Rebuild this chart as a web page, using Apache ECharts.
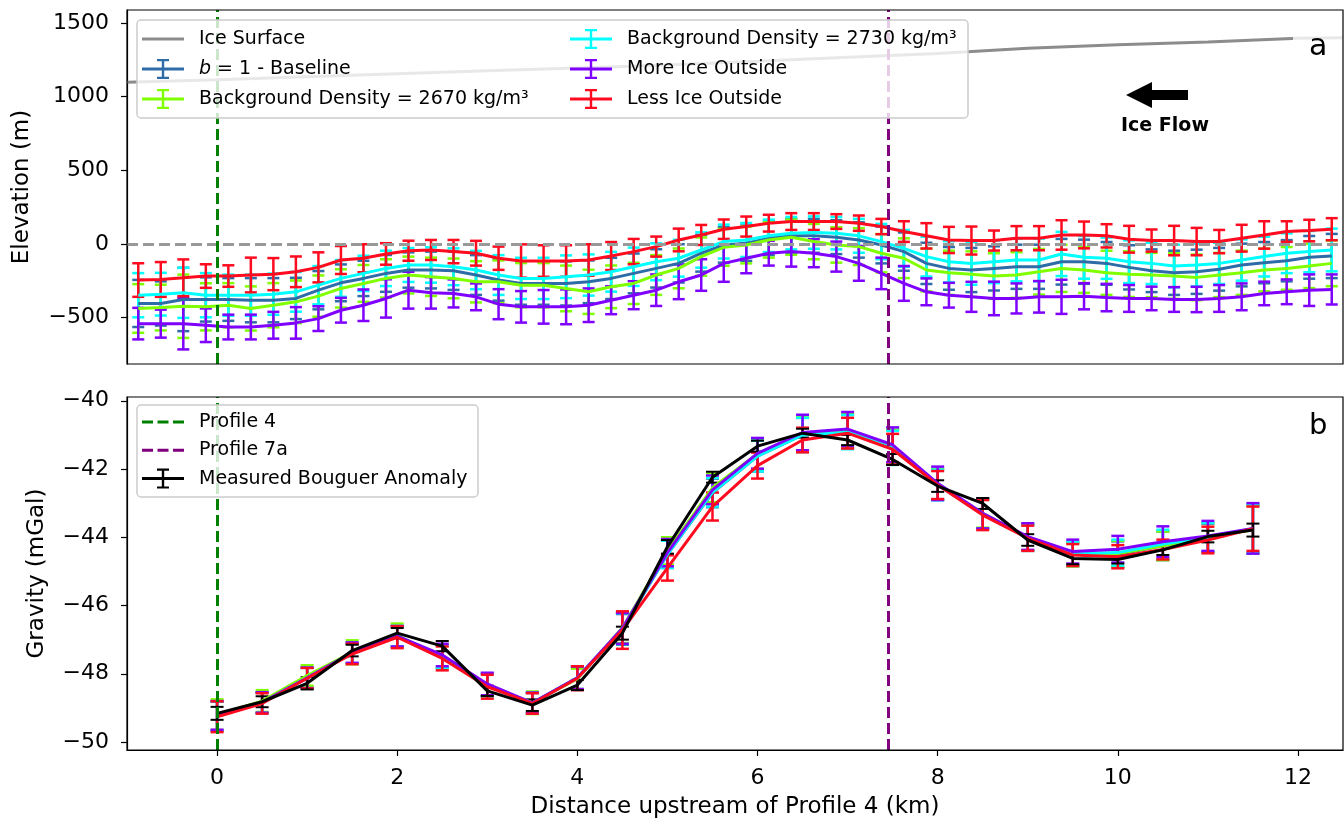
<!DOCTYPE html>
<html>
<head>
<meta charset="utf-8">
<script src="https://cdn.jsdelivr.net/npm/echarts@6/dist/echarts.min.js"></script>
<style>
html,body{margin:0;padding:0;background:#fff;}
#chart{width:1344px;height:825px;}
</style>
</head>
<body>
<div id="chart"></div>
<script>
// ---------------- DATA ----------------
// Panel a: inversion positions (km upstream of Profile 4)
const topX = [-0.875, -0.625, -0.375, -0.125, 0.125, 0.375, 0.625, 0.875, 1.125, 1.375, 1.625, 1.875, 2.125, 2.375,
  2.625, 2.875, 3.125, 3.375, 3.625, 3.875, 4.125, 4.375, 4.625, 4.875, 5.125, 5.375, 5.625,
  5.875, 6.125, 6.375, 6.625, 6.875, 7.125, 7.375, 7.625, 7.875, 8.125, 8.375, 8.625, 8.875,
  9.125, 9.375, 9.625, 9.875, 10.125, 10.375, 10.625, 10.875, 11.125, 11.375, 11.625, 11.875, 12.125, 12.375];

const iceSurfaceX = [-1, 0, 1, 2, 3, 4, 5, 6, 7, 8, 9, 10, 11, 12, 12.5];
const iceSurfaceY = [1097, 1115, 1135, 1155, 1175, 1195, 1215, 1240, 1268, 1292, 1328, 1352, 1370, 1397, 1400];

const baselineTop = [-404, -404, -377, -377, -377, -382, -382, -370, -314, -264, -234, -200, -177, -177,
  -182, -211, -245, -268, -268, -268, -257, -234, -200, -166, -132, -63, -7,
  5, 39, 55, 55, 46, 27, -7, -52, -132, -166, -177, -166, -155,
  -155, -121, -121, -132, -159, -182, -196, -189, -172, -143, -127, -114, -91, -82];
const baselineTopErr = [160, 150, 215, 150, 145, 150, 150, 140, 130, 125, 120, 125, 120, 125,
  130, 135, 140, 145, 145, 150, 145, 140, 135, 130, 130, 125, 120,
  120, 115, 115, 115, 115, 120, 125, 130, 140, 145, 150, 150, 150,
  150, 155, 150, 145, 150, 145, 150, 150, 145, 145, 140, 140, 145, 150];

const d2670Top = [-438, -432, -423, -427, -416, -438, -416, -393, -354, -302, -268, -234, -211, -223,
  -234, -257, -257, -280, -280, -302, -325, -291, -268, -211, -166, -86, -23,
  -7, 27, 46, 16, -7, -18, -63, -97, -177, -196, -205, -218, -211,
  -189, -166, -177, -196, -205, -211, -218, -227, -211, -196, -177, -166, -150, -132];
const d2670TopErr = [165, 155, 215, 160, 150, 150, 150, 145, 140, 130, 125, 130, 125, 130,
  135, 140, 145, 150, 150, 155, 150, 145, 140, 135, 135, 130, 125,
  125, 120, 120, 120, 120, 125, 130, 135, 145, 150, 155, 155, 155,
  155, 160, 155, 150, 155, 150, 155, 155, 150, 150, 145, 145, 150, 155];

const d2730Top = [-348, -341, -332, -348, -348, -348, -341, -325, -280, -234, -200, -166, -143, -143,
  -155, -177, -211, -234, -234, -223, -211, -189, -155, -121, -97, -41, 16,
  27, 55, 73, 77, 73, 55, 16, -30, -86, -121, -132, -121, -109,
  -109, -68, -91, -97, -121, -132, -150, -143, -132, -109, -86, -63, -52, -41];
const d2730TopErr = [150, 145, 170, 150, 140, 140, 140, 135, 130, 125, 120, 120, 115, 120,
  125, 130, 135, 140, 140, 145, 140, 135, 130, 125, 125, 120, 115,
  115, 110, 110, 110, 110, 115, 120, 125, 135, 140, 145, 145, 145,
  145, 150, 145, 140, 145, 140, 145, 145, 140, 140, 135, 135, 140, 145];

const moreIceTop = [-541, -541, -541, -552, -564, -564, -552, -536, -507, -450, -416, -370, -314, -332,
  -336, -359, -409, -427, -427, -427, -416, -382, -348, -314, -257, -211, -132,
  -97, -63, -52, -63, -86, -132, -200, -268, -325, -348, -359, -370, -370,
  -359, -359, -355, -364, -370, -370, -377, -377, -370, -359, -336, -325, -314, -309];
const moreIceTopErr = [107, 95, 175, 114, 84, 84, 91, 107, 84, 84, 107, 130, 125, 107,
  95, 91, 102, 107, 114, 118, 114, 95, 95, 107, 118, 107, 125,
  102, 84, 102, 95, 102, 118, 107, 118, 91, 84, 102, 114, 102,
  107, 116, 89, 93, 91, 80, 84, 86, 91, 91, 80, 84, 107, 102];

const lessIceTop = [-245, -241, -230, -218, -218, -211, -205, -189, -159, -109, -97, -68, -46, -41,
  -52, -63, -97, -116, -116, -116, -109, -82, -52, -18, 27, 61, 100,
  118, 141, 152, 152, 152, 141, 118, 84, 55, 27, 23, 23, 39,
  39, 61, 61, 55, 32, 23, 23, 16, 16, 39, 61, 84, 91, 100];
const lessIceTopErr = [114, 118, 125, 80, 73, 118, 109, 104, 102, 95, 95, 73, 68, 68,
  79, 84, 79, 113, 107, 107, 107, 95, 86, 68, 77, 68, 66,
  68, 57, 57, 57, 50, 52, 52, 70, 86, 89, 95, 68, 82,
  82, 100, 91, 79, 91, 75, 100, 93, 79, 91, 93, 70, 73, 75];

// Panel b: gravity stations
const gravX = [0, 0.5, 1, 1.5, 2, 2.5, 3, 3.5, 4, 4.5, 5, 5.5, 6, 6.5, 7, 7.5, 8, 8.5, 9, 9.5, 10, 10.5, 11, 11.5];

const measured = [-49.16, -48.82, -48.28, -47.32, -46.81, -47.19, -48.50, -48.92, -48.33, -46.81, -44.28, -42.24,
  -41.33, -40.95, -41.15, -41.72, -42.50, -43.01, -44.08, -44.62, -44.65, -44.37, -43.98, -43.79];
const measuredErr = [0.19, 0.16, 0.18, 0.17, 0.15, 0.15, 0.15, 0.17, 0.15, 0.19, 0.20, 0.16,
  0.16, 0.13, 0.15, 0.16, 0.17, 0.16, 0.17, 0.17, 0.12, 0.15, 0.17, 0.19];

const baselineGrav = [-49.24, -48.85, -48.12, -47.40, -46.90, -47.50, -48.33, -48.86, -48.12, -46.70, -44.50, -42.70,
  -41.62, -41.00, -40.90, -41.35, -42.45, -43.32, -44.00, -44.50, -44.50, -44.25, -44.02, -43.75];
const baselineGravErr = [0.43, 0.30, 0.30, 0.30, 0.30, 0.33, 0.33, 0.30, 0.33, 0.45, 0.40, 0.42,
  0.45, 0.50, 0.50, 0.50, 0.45, 0.42, 0.38, 0.35, 0.38, 0.42, 0.42, 0.70];

const d2670Grav = [-49.20, -48.80, -48.05, -47.37, -46.88, -47.50, -48.33, -48.85, -48.15, -46.65, -44.40, -42.55,
  -41.55, -40.98, -40.90, -41.35, -42.45, -43.30, -44.00, -44.50, -44.48, -44.25, -44.00, -43.78];
const d2670GravErr = [0.45, 0.32, 0.30, 0.35, 0.35, 0.35, 0.33, 0.33, 0.30, 0.45, 0.40, 0.42,
  0.45, 0.50, 0.50, 0.50, 0.45, 0.42, 0.38, 0.35, 0.38, 0.42, 0.42, 0.70];

const d2730Grav = [-49.24, -48.85, -48.12, -47.40, -46.90, -47.50, -48.33, -48.86, -48.12, -46.68, -44.50, -42.68,
  -41.62, -41.00, -40.92, -41.38, -42.47, -43.32, -44.02, -44.48, -44.45, -44.20, -44.00, -43.75];
const d2730GravErr = [0.42, 0.30, 0.30, 0.30, 0.30, 0.33, 0.33, 0.30, 0.33, 0.45, 0.40, 0.42,
  0.45, 0.50, 0.50, 0.50, 0.45, 0.42, 0.38, 0.35, 0.38, 0.42, 0.42, 0.72];

const moreIceGrav = [-49.22, -48.84, -48.12, -47.38, -46.90, -47.45, -48.30, -48.85, -48.12, -46.67, -44.45, -42.61,
  -41.54, -40.93, -40.83, -41.29, -42.42, -43.30, -43.98, -44.42, -44.35, -44.13, -43.96, -43.74];
const moreIceGravErr = [0.42, 0.30, 0.30, 0.30, 0.30, 0.33, 0.33, 0.30, 0.33, 0.45, 0.40, 0.42,
  0.45, 0.52, 0.50, 0.51, 0.49, 0.44, 0.39, 0.35, 0.39, 0.45, 0.44, 0.74];

const lessIceGrav = [-49.26, -48.87, -48.13, -47.42, -46.93, -47.55, -48.38, -48.87, -48.13, -46.72, -44.90, -43.10,
  -41.90, -41.15, -40.95, -41.42, -42.47, -43.35, -44.03, -44.52, -44.57, -44.36, -44.08, -43.75];
const lessIceGravErr = [0.45, 0.30, 0.30, 0.30, 0.32, 0.35, 0.35, 0.30, 0.35, 0.55, 0.37, 0.41,
  0.38, 0.36, 0.45, 0.45, 0.41, 0.44, 0.37, 0.32, 0.34, 0.29, 0.39, 0.65];

const profile4X = 0;
const profile7aX = 7.45;

const xTicks = [0, 2, 4, 6, 8, 10, 12];
const elevTicks = [-500, 0, 500, 1000, 1500];
const gravTicks = [-50, -48, -46, -44, -42, -40];

const NAMES = {
  ice: 'Ice Surface',
  base: 'b = 1 - Baseline',
  d2670: 'Background Density = 2670 kg/m\u00b3',
  d2730: 'Background Density = 2730 kg/m\u00b3',
  more: 'More Ice Outside',
  less: 'Less Ice Outside',
  p4: 'Profile 4',
  p7: 'Profile 7a',
  meas: 'Measured Bouguer Anomaly'
};

// ---------------- STYLE ----------------
const FONT = 'DejaVu Sans';
const COLORS = {
  ice: '#8c8c8c', base: '#2e6ca8', d2670: '#80ff00', d2730: '#00ffff',
  more: '#7f00ff', less: '#ff0a1e', p4: '#008000', p7: '#800080', meas: '#000000', zero: '#999999'
};

function pairs(xs, ys) { return xs.map((x, i) => [x, ys[i]]); }
function triples(xs, ys, es) { return xs.map((x, i) => [x, ys[i], es[i]]); }

function errRenderer(capHalf, lw) {
  return function (params, api) {
    const x = api.value(0), y = api.value(1), e = api.value(2);
    const t = api.coord([x, y + e]);
    const b = api.coord([x, y - e]);
    const st = { stroke: api.visual('color'), lineWidth: lw };
    return {
      type: 'group',
      children: [
        { type: 'line', shape: { x1: t[0], y1: t[1], x2: b[0], y2: b[1] }, style: st },
        { type: 'line', shape: { x1: t[0] - capHalf, y1: t[1], x2: t[0] + capHalf, y2: t[1] }, style: st },
        { type: 'line', shape: { x1: b[0] - capHalf, y1: b[1], x2: b[0] + capHalf, y2: b[1] }, style: st }
      ]
    };
  };
}

function lineSeries(name, xs, ys, color, gi, lw, z) {
  return {
    type: 'line', name: name, xAxisIndex: gi, yAxisIndex: gi,
    data: pairs(xs, ys), showSymbol: false, symbol: 'none',
    lineStyle: { color: color, width: lw }, itemStyle: { color: color },
    silent: true, animation: false, z: z || 2
  };
}
function errSeries(name, xs, ys, es, color, gi, capHalf, lw) {
  return {
    type: 'custom', name: name + ' (err)', xAxisIndex: gi, yAxisIndex: gi,
    data: triples(xs, ys, es), encode: { x: 0, y: 1 },
    dimensions: ['x', 'y', 'e'],
    renderItem: errRenderer(capHalf, lw),
    itemStyle: { color: color }, silent: true, animation: false, z: 2
  };
}
function vLineSeries(name, x, color, gi) {
  return {
    type: 'line', name: name, xAxisIndex: gi, yAxisIndex: gi, data: [],
    itemStyle: { color: color }, lineStyle: { color: color }, z: 6, animation: false,
    markLine: {
      silent: true, symbol: 'none', label: { show: false }, animation: false,
      lineStyle: { color: color, width: 3, type: [11, 5] },
      data: [{ xAxis: x }]
    }
  };
}

const series = [];
// panel a
series.push(lineSeries(NAMES.ice, iceSurfaceX, iceSurfaceY, COLORS.ice, 0, 3));
series.push({
  type: 'line', name: 'zero', xAxisIndex: 0, yAxisIndex: 0, data: [], z: 5, animation: false,
  markLine: { silent: true, symbol: 'none', label: { show: false }, animation: false,
    lineStyle: { color: COLORS.zero, width: 3, type: [11, 5] }, data: [{ yAxis: 0 }] }
});
const topSets = [
  ['base', baselineTop, baselineTopErr],
  ['d2670', d2670Top, d2670TopErr],
  ['d2730', d2730Top, d2730TopErr],
  ['more', moreIceTop, moreIceTopErr],
  ['less', lessIceTop, lessIceTopErr]
];
topSets.forEach(([k, ys, es]) => {
  series.push(lineSeries(NAMES[k], topX, ys, COLORS[k], 0, 3));
  series.push(errSeries(NAMES[k], topX, ys, es, COLORS[k], 0, 6, 2.5));
});
series.push(vLineSeries(NAMES.p4, profile4X, COLORS.p4, 0));
series.push(vLineSeries(NAMES.p7, profile7aX, COLORS.p7, 0));

// panel b
const gravSets = [
  ['base', baselineGrav, baselineGravErr],
  ['d2670', d2670Grav, d2670GravErr],
  ['d2730', d2730Grav, d2730GravErr],
  ['more', moreIceGrav, moreIceGravErr],
  ['less', lessIceGrav, lessIceGravErr]
];
gravSets.forEach(([k, ys, es]) => {
  series.push(lineSeries(NAMES[k] + ' ', gravX, ys, COLORS[k], 1, 3));
  series.push(errSeries(NAMES[k] + ' ', gravX, ys, es, COLORS[k], 1, 6.5, 2.5));
});
series.push(lineSeries(NAMES.meas, gravX, measured, COLORS.meas, 1, 3));
series.push(errSeries(NAMES.meas, gravX, measured, measuredErr, COLORS.meas, 1, 6.5, 2));
series.push(vLineSeries(NAMES.p4, profile4X, COLORS.p4, 1));
series.push(vLineSeries(NAMES.p7, profile7aX, COLORS.p7, 1));

// legend icons (42 x 20 box; tiny corner dots fix the bounding box)
const BOX = 'M0,0h0.01v0.01h-0.01z M41.99,19.99h0.01v0.01h-0.01z ';
const ICON_LINE = 'path://' + BOX + 'M0,8.5h42v3H0z';
const ICON_ERR = 'path://' + BOX + 'M0,8.5h42v3H0z M19.8,1h2.4v18h-2.4z M15,0h12v2.2H15z M15,17.8h12v2.2H15z';
const ICON_DASH = 'path://' + BOX + 'M0,8.5h11v3H0z M15.5,8.5h11v3h-11z M31,8.5h11v3h-11z';

const legendBase = {
  orient: 'vertical', padding: 0, itemWidth: 42, itemHeight: 20, itemGap: 10,
  selectedMode: false, symbolKeepAspect: false, z: 8,
  textStyle: {
    fontFamily: FONT, fontSize: 19, color: '#000', padding: [0, 0, 0, 10],
    rich: { i: { fontFamily: FONT, fontSize: 19, fontStyle: 'italic', color: '#000' } }
  },
  formatter: function (n) { return n === NAMES.base ? '{i|b} = 1 - Baseline' : n; }
};

const minusFmt = v => String(v).replace('-', '\u2212');
const axisLbl = { fontFamily: FONT, fontSize: 22, color: '#000' };

const option = {
  backgroundColor: '#fff',
  animation: false,
  grid: [
    { left: 127, top: 10, width: 1216, height: 354, show: true, borderColor: '#000', borderWidth: 1.2, backgroundColor: 'transparent', z: 9 },
    { left: 127, top: 397, width: 1216, height: 353, show: true, borderColor: '#000', borderWidth: 1.2, backgroundColor: 'transparent', z: 9 }
  ],
  xAxis: [
    { type: 'value', gridIndex: 0, min: -1, max: 12.5, axisLine: { show: false }, axisTick: { show: false },
      axisLabel: { show: false }, splitLine: { show: false } },
    { type: 'value', gridIndex: 1, min: -1, max: 12.5,
      name: 'Distance upstream of Profile 4 (km)', nameLocation: 'middle', nameGap: 46,
      nameTextStyle: { fontFamily: FONT, fontSize: 23, color: '#000' },
      axisLine: { show: true, onZero: false, lineStyle: { color: '#000', width: 1.2 } },
      axisTick: { show: true, inside: false, length: 6, customValues: xTicks, lineStyle: { color: '#000', width: 1.2 } },
      axisLabel: Object.assign({ show: true, margin: 17, customValues: xTicks, formatter: minusFmt }, axisLbl),
      splitLine: { show: false } }
  ],
  yAxis: [
    { type: 'value', gridIndex: 0, min: -815, max: 1588,
      name: 'Elevation (m)', nameLocation: 'middle', nameGap: 93,
      nameTextStyle: { fontFamily: FONT, fontSize: 23, color: '#000' },
      axisLine: { show: true, onZero: false, lineStyle: { color: '#000', width: 1.2 } },
      axisTick: { show: true, length: 6, customValues: elevTicks, lineStyle: { color: '#000', width: 1.2 } },
      axisLabel: Object.assign({ show: true, margin: 18, customValues: elevTicks, formatter: minusFmt }, axisLbl),
      splitLine: { show: false } },
    { type: 'value', gridIndex: 1, min: -50.234, max: -39.89,
      name: 'Gravity (mGal)', nameLocation: 'middle', nameGap: 78,
      nameTextStyle: { fontFamily: FONT, fontSize: 23, color: '#000' },
      axisLine: { show: true, onZero: false, lineStyle: { color: '#000', width: 1.2 } },
      axisTick: { show: true, length: 6, customValues: gravTicks, lineStyle: { color: '#000', width: 1.2 } },
      axisLabel: Object.assign({ show: true, margin: 18, customValues: gravTicks, formatter: minusFmt }, axisLbl),
      splitLine: { show: false } }
  ],
  legend: [
    Object.assign({}, legendBase, { left: 142, top: 29, data: [
      { name: NAMES.ice, icon: ICON_LINE },
      { name: NAMES.base, icon: ICON_ERR },
      { name: NAMES.d2670, icon: ICON_ERR } ] }),
    Object.assign({}, legendBase, { left: 570, top: 29, data: [
      { name: NAMES.d2730, icon: ICON_ERR },
      { name: NAMES.more, icon: ICON_ERR },
      { name: NAMES.less, icon: ICON_ERR } ] }),
    Object.assign({}, legendBase, { left: 142, top: 412, itemGap: 8.3, data: [
      { name: NAMES.p4, icon: ICON_DASH },
      { name: NAMES.p7, icon: ICON_DASH },
      { name: NAMES.meas, icon: ICON_ERR } ] })
  ],
  graphic: [
    { type: 'rect', z: 7, shape: { x: 137, y: 20, width: 831, height: 98, r: 4 },
      style: { fill: 'rgba(255,255,255,0.8)', stroke: '#cccccc', lineWidth: 1.5 } },
    { type: 'rect', z: 7, shape: { x: 137, y: 405, width: 341, height: 92, r: 4 },
      style: { fill: 'rgba(255,255,255,0.8)', stroke: '#cccccc', lineWidth: 1.5 } },
    { type: 'text', z: 7, left: 1293, top: 30,
      style: { text: 'a', fontFamily: FONT, fontSize: 30, fill: '#000', backgroundColor: 'rgba(255,255,255,0.8)', padding: [2, 16, 4, 16] } },
    { type: 'text', z: 7, left: 1296, top: 410,
      style: { text: 'b', fontFamily: FONT, fontSize: 29, fill: '#000', backgroundColor: 'rgba(255,255,255,0.8)', padding: [2, 13, 4, 13] } },
    { type: 'polygon', z: 7,
      shape: { points: [[1126, 95], [1152, 82], [1152, 90], [1188, 90], [1188, 100], [1152, 100], [1152, 108]] },
      style: { fill: '#000' } },
    { type: 'text', z: 7, left: 1121, top: 117,
      style: { text: 'Ice Flow', fontFamily: FONT, fontSize: 19, fontWeight: 'bold', fill: '#000' } }
  ],
  series: series
};

const chart = echarts.init(document.getElementById('chart'), null, { renderer: 'canvas' });
chart.setOption(option);
</script>
</body>
</html>
